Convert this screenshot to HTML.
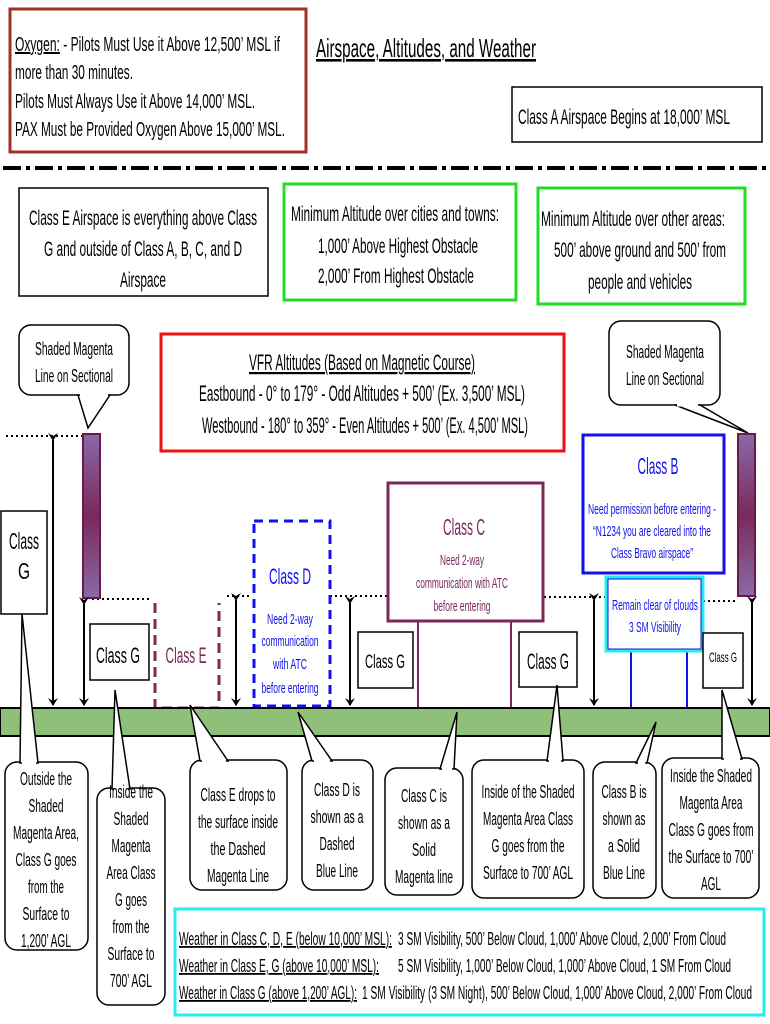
<!DOCTYPE html>
<html><head><meta charset="utf-8"><style>
html,body{margin:0;padding:0;background:#fff}
svg{display:block}
text{font-family:"Liberation Sans Narrow","Liberation Sans",sans-serif;fill:#000}
</style></head><body>
<svg width="770" height="1024" viewBox="0 0 770 1024" xmlns="http://www.w3.org/2000/svg">
<defs>
<linearGradient id="mg" x1="0" y1="0" x2="0" y2="1">
<stop offset="0" stop-color="#8a6aa8"/><stop offset="0.5" stop-color="#7a2a5a"/><stop offset="1" stop-color="#8a6aa8"/>
</linearGradient>
<marker id="ah" markerWidth="8" markerHeight="10" refX="7" refY="5" orient="auto" markerUnits="userSpaceOnUse">
<path d="M0,0 L8,5 L0,10 L3,5 Z" fill="#000"/></marker>
</defs>

<rect x="10" y="9" width="296" height="143" fill="#fff" stroke="#a0302a" stroke-width="3"/>
<text x="15" y="51" font-size="20" textLength="265" lengthAdjust="spacingAndGlyphs"><tspan text-decoration="underline">Oxygen:</tspan> - Pilots Must Use it Above 12,500’ MSL if</text>
<text x="15" y="79" font-size="20" textLength="118" lengthAdjust="spacingAndGlyphs">more than 30 minutes.</text>
<text x="15" y="108" font-size="20" textLength="240" lengthAdjust="spacingAndGlyphs">Pilots Must Always Use it Above 14,000’ MSL.</text>
<text x="15" y="136" font-size="20" textLength="270" lengthAdjust="spacingAndGlyphs">PAX Must be Provided Oxygen Above 15,000’ MSL.</text>

<text x="316" y="57" font-size="26" textLength="220" lengthAdjust="spacingAndGlyphs" text-decoration="underline">Airspace, Altitudes, and Weather</text>

<rect x="512" y="87" width="250" height="55" fill="#fff" stroke="#000" stroke-width="1.5"/>
<text x="518" y="124" font-size="21" textLength="212" lengthAdjust="spacingAndGlyphs">Class A Airspace Begins at 18,000’ MSL</text>

<line x1="3" y1="168" x2="770" y2="168" stroke="#000" stroke-width="4" stroke-dasharray="18,5,4,5"/>

<rect x="19" y="188" width="249" height="108" fill="#fff" stroke="#000" stroke-width="1.5"/>
<text x="143" y="225" font-size="21" text-anchor="middle" textLength="228" lengthAdjust="spacingAndGlyphs">Class E Airspace is everything above Class</text>
<text x="143" y="256" font-size="21" text-anchor="middle" textLength="198" lengthAdjust="spacingAndGlyphs">G and outside of Class A, B, C, and D</text>
<text x="143" y="287" font-size="21" text-anchor="middle" textLength="46" lengthAdjust="spacingAndGlyphs">Airspace</text>

<rect x="284" y="184" width="232" height="116" fill="#fff" stroke="#22dd22" stroke-width="3"/>
<text x="395" y="221" font-size="21" text-anchor="middle" textLength="208" lengthAdjust="spacingAndGlyphs">Minimum Altitude over cities and towns:</text>
<text x="398" y="253" font-size="21" text-anchor="middle" textLength="160" lengthAdjust="spacingAndGlyphs">1,000’ Above Highest Obstacle</text>
<text x="396" y="283" font-size="21" text-anchor="middle" textLength="156" lengthAdjust="spacingAndGlyphs">2,000’ From Highest Obstacle</text>

<rect x="538" y="188" width="207" height="116" fill="#fff" stroke="#22dd22" stroke-width="3"/>
<text x="633" y="226" font-size="21" text-anchor="middle" textLength="184" lengthAdjust="spacingAndGlyphs">Minimum Altitude over other areas:</text>
<text x="640" y="257" font-size="21" text-anchor="middle" textLength="172" lengthAdjust="spacingAndGlyphs">500’ above ground and 500’ from</text>
<text x="640" y="289" font-size="21" text-anchor="middle" textLength="104" lengthAdjust="spacingAndGlyphs">people and vehicles</text>

<rect x="19" y="325" width="110" height="70" rx="12" fill="#fff" stroke="#000" stroke-width="1.5"/>
<polygon points="78,395 110,395 88,428" fill="#fff" stroke="#000" stroke-width="1.5"/>
<line x1="80" y1="395" x2="108" y2="395" stroke="#fff" stroke-width="3"/>
<text x="74" y="355" font-size="18" text-anchor="middle" textLength="78" lengthAdjust="spacingAndGlyphs">Shaded Magenta</text>
<text x="74" y="382" font-size="18" text-anchor="middle" textLength="78" lengthAdjust="spacingAndGlyphs">Line on Sectional</text>

<rect x="161" y="334" width="403" height="117" fill="#fff" stroke="#ee1111" stroke-width="3"/>
<text x="362" y="370" font-size="22" text-anchor="middle" textLength="226" lengthAdjust="spacingAndGlyphs" text-decoration="underline">VFR Altitudes (Based on Magnetic Course)</text>
<text x="362" y="401" font-size="22" text-anchor="middle" textLength="326" lengthAdjust="spacingAndGlyphs">Eastbound - 0° to 179° - Odd Altitudes + 500’ (Ex. 3,500’ MSL)</text>
<text x="365" y="433" font-size="22" text-anchor="middle" textLength="326" lengthAdjust="spacingAndGlyphs">Westbound - 180° to 359° - Even Altitudes + 500’ (Ex. 4,500’ MSL)</text>

<rect x="609" y="321" width="111" height="84" rx="12" fill="#fff" stroke="#000" stroke-width="1.5"/>
<polygon points="675,405 700,405 748,433" fill="#fff" stroke="#000" stroke-width="1.5"/>
<line x1="677" y1="405" x2="698" y2="405" stroke="#fff" stroke-width="3"/>
<text x="665" y="358" font-size="18" text-anchor="middle" textLength="78" lengthAdjust="spacingAndGlyphs">Shaded Magenta</text>
<text x="665" y="385" font-size="18" text-anchor="middle" textLength="78" lengthAdjust="spacingAndGlyphs">Line on Sectional</text>

<g stroke="#000" stroke-width="2" stroke-dasharray="2,3">
<line x1="6" y1="436" x2="82" y2="436"/>
<line x1="92" y1="599" x2="149" y2="599"/>
<line x1="227" y1="596" x2="252" y2="596"/>
<line x1="330" y1="596" x2="388" y2="596"/>
<line x1="544" y1="597" x2="606" y2="597"/>
<line x1="703" y1="601" x2="737" y2="601"/>
</g>

<rect x="83" y="434" width="17" height="164" fill="url(#mg)" stroke="#6a1a4a" stroke-width="2"/>
<rect x="738" y="434" width="17" height="162" fill="url(#mg)" stroke="#6a1a4a" stroke-width="2"/>

<g stroke="#000" stroke-width="2" marker-start="url(#ah)" marker-end="url(#ah)">
<line x1="53" y1="440" x2="53" y2="705"/>
<line x1="84" y1="604" x2="84" y2="705"/>
<line x1="236" y1="600" x2="236" y2="705"/>
<line x1="350" y1="603" x2="350" y2="705"/>
<line x1="594" y1="600" x2="594" y2="705"/>
<line x1="752" y1="603" x2="752" y2="705"/>
</g>

<rect x="1" y="511" width="46" height="103" fill="#fff" stroke="#000" stroke-width="1.5"/>
<text x="24" y="549" font-size="23" text-anchor="middle" textLength="30" lengthAdjust="spacingAndGlyphs">Class</text>
<text x="24" y="579" font-size="23" text-anchor="middle" textLength="12" lengthAdjust="spacingAndGlyphs">G</text>

<rect x="90" y="624" width="59" height="56" fill="#fff" stroke="#000" stroke-width="1.5"/>
<text x="118" y="663" font-size="22" text-anchor="middle" textLength="44" lengthAdjust="spacingAndGlyphs">Class G</text>

<path d="M155,603 L155,708 L219,708 L219,603" fill="none" stroke="#7a2a5a" stroke-width="3" stroke-dasharray="10,6"/>
<text x="186" y="663" font-size="22" text-anchor="middle" style="fill:#7a2a5a" textLength="41" lengthAdjust="spacingAndGlyphs">Class E</text>

<rect x="254" y="521" width="76" height="185" fill="#fff" stroke="#1111ee" stroke-width="3" stroke-dasharray="9,6"/>
<text x="290" y="584" font-size="22" text-anchor="middle" style="fill:#1111ee" textLength="42" lengthAdjust="spacingAndGlyphs">Class D</text>
<text x="290" y="624" font-size="15" text-anchor="middle" style="fill:#1111ee" textLength="46" lengthAdjust="spacingAndGlyphs">Need 2-way</text>
<text x="290" y="646" font-size="15" text-anchor="middle" style="fill:#1111ee" textLength="57" lengthAdjust="spacingAndGlyphs">communication</text>
<text x="290" y="669" font-size="15" text-anchor="middle" style="fill:#1111ee" textLength="34" lengthAdjust="spacingAndGlyphs">with ATC</text>
<text x="290" y="693" font-size="15" text-anchor="middle" style="fill:#1111ee" textLength="57" lengthAdjust="spacingAndGlyphs">before entering</text>

<rect x="358" y="632" width="55" height="56" fill="#fff" stroke="#000" stroke-width="1.5"/>
<text x="385" y="668" font-size="19" text-anchor="middle" textLength="40" lengthAdjust="spacingAndGlyphs">Class G</text>

<line x1="418" y1="621" x2="418" y2="708" stroke="#7a2a5a" stroke-width="2"/>
<line x1="511" y1="621" x2="511" y2="708" stroke="#7a2a5a" stroke-width="2"/>
<rect x="388" y="483" width="155" height="138" fill="#fff" stroke="#7a2a5a" stroke-width="3"/>
<text x="464" y="535" font-size="23" text-anchor="middle" style="fill:#7a2a5a" textLength="42" lengthAdjust="spacingAndGlyphs">Class C</text>
<text x="462" y="565" font-size="15" text-anchor="middle" style="fill:#7a2a5a" textLength="44" lengthAdjust="spacingAndGlyphs">Need 2-way</text>
<text x="462" y="588" font-size="15" text-anchor="middle" style="fill:#7a2a5a" textLength="92" lengthAdjust="spacingAndGlyphs">communication with ATC</text>
<text x="462" y="611" font-size="15" text-anchor="middle" style="fill:#7a2a5a" textLength="57" lengthAdjust="spacingAndGlyphs">before entering</text>

<rect x="519" y="632" width="58" height="55" fill="#fff" stroke="#000" stroke-width="1.5"/>
<text x="548" y="669" font-size="22" text-anchor="middle" textLength="42" lengthAdjust="spacingAndGlyphs">Class G</text>

<rect x="631" y="651" width="56" height="57" fill="#fff" stroke="#1111ee" stroke-width="2"/>
<rect x="583" y="435" width="141" height="138" fill="#fff" stroke="#1111ee" stroke-width="3"/>
<text x="658" y="474" font-size="23" text-anchor="middle" style="fill:#1111ee" textLength="41" lengthAdjust="spacingAndGlyphs">Class B</text>
<text x="652" y="514" font-size="15" text-anchor="middle" style="fill:#1111ee" textLength="128" lengthAdjust="spacingAndGlyphs">Need permission before entering -</text>
<text x="652" y="536" font-size="15" text-anchor="middle" style="fill:#1111ee" textLength="118" lengthAdjust="spacingAndGlyphs">“N1234 you are cleared into the</text>
<text x="652" y="558" font-size="15" text-anchor="middle" style="fill:#1111ee" textLength="82" lengthAdjust="spacingAndGlyphs">Class Bravo airspace”</text>
<rect x="606" y="577" width="97" height="74" fill="#fff" stroke="#22eeee" stroke-width="3"/>
<rect x="608" y="579" width="93" height="70" fill="none" stroke="#1111ee" stroke-width="1"/>
<text x="655" y="610" font-size="15" text-anchor="middle" style="fill:#1111ee" textLength="86" lengthAdjust="spacingAndGlyphs">Remain clear of clouds</text>
<text x="655" y="632" font-size="15" text-anchor="middle" style="fill:#1111ee" textLength="52" lengthAdjust="spacingAndGlyphs">3 SM Visibility</text>

<rect x="703" y="633" width="40" height="55" fill="#fff" stroke="#000" stroke-width="1.5"/>
<text x="723" y="662" font-size="14" text-anchor="middle" textLength="28" lengthAdjust="spacingAndGlyphs">Class G</text>

<rect x="0" y="708" width="770" height="28" fill="#8fc07a" stroke="#000" stroke-width="2"/>

<g stroke="#000" stroke-width="1.5" fill="#fff">
<rect x="5" y="762" width="83" height="188" rx="12"/>
<polygon points="20,763 38,763 22,614"/>
<rect x="97" y="788" width="68" height="217" rx="12"/>
<polygon points="112,789 130,789 115,690"/>
<rect x="190" y="760" width="97" height="130" rx="12"/>
<polygon points="200,761 228,761 190,705"/>
<rect x="302" y="760" width="71" height="130" rx="12"/>
<polygon points="312,761 332,761 298,712"/>
<rect x="385" y="768" width="78" height="127" rx="12"/>
<polygon points="440,769 454,769 457,712"/>
<rect x="472" y="760" width="112" height="138" rx="12"/>
<polygon points="547,761 563,761 557,685"/>
<rect x="593" y="762" width="63" height="136" rx="12"/>
<polygon points="636,763 647,763 656,722"/>
<rect x="662" y="758" width="97" height="140" rx="12"/>
<polygon points="722,759 742,759 722,690"/>
</g>
<g stroke="#fff" stroke-width="3">
<line x1="22" y1="763" x2="36" y2="763"/>
<line x1="114" y1="789" x2="128" y2="789"/>
<line x1="202" y1="761" x2="226" y2="761"/>
<line x1="314" y1="761" x2="330" y2="761"/>
<line x1="442" y1="769" x2="452" y2="769"/>
<line x1="549" y1="761" x2="561" y2="761"/>
<line x1="638" y1="763" x2="645" y2="763"/>
<line x1="724" y1="759" x2="740" y2="759"/>
</g>
<g font-size="18" text-anchor="middle" lengthAdjust="spacingAndGlyphs">
<text x="46" y="785" textLength="52" lengthAdjust="spacingAndGlyphs">Outside the</text>
<text x="46" y="812" textLength="35" lengthAdjust="spacingAndGlyphs">Shaded</text>
<text x="46" y="839" textLength="66" lengthAdjust="spacingAndGlyphs">Magenta Area,</text>
<text x="46" y="866" textLength="61" lengthAdjust="spacingAndGlyphs">Class G goes</text>
<text x="46" y="893" textLength="36" lengthAdjust="spacingAndGlyphs">from the</text>
<text x="46" y="920" textLength="47" lengthAdjust="spacingAndGlyphs">Surface to</text>
<text x="46" y="947" textLength="50" lengthAdjust="spacingAndGlyphs">1,200’ AGL</text>

<text x="131" y="798" textLength="44" lengthAdjust="spacingAndGlyphs">Inside the</text>
<text x="131" y="825" textLength="35" lengthAdjust="spacingAndGlyphs">Shaded</text>
<text x="131" y="852" textLength="39" lengthAdjust="spacingAndGlyphs">Magenta</text>
<text x="131" y="879" textLength="49" lengthAdjust="spacingAndGlyphs">Area Class</text>
<text x="131" y="906" textLength="32" lengthAdjust="spacingAndGlyphs">G goes</text>
<text x="131" y="933" textLength="37" lengthAdjust="spacingAndGlyphs">from the</text>
<text x="131" y="960" textLength="47" lengthAdjust="spacingAndGlyphs">Surface to</text>
<text x="131" y="987" textLength="42" lengthAdjust="spacingAndGlyphs">700’ AGL</text>

<text x="238" y="801" textLength="75" lengthAdjust="spacingAndGlyphs">Class E drops to</text>
<text x="238" y="828" textLength="80" lengthAdjust="spacingAndGlyphs">the surface inside</text>
<text x="238" y="855" textLength="55" lengthAdjust="spacingAndGlyphs">the  Dashed</text>
<text x="238" y="882" textLength="62" lengthAdjust="spacingAndGlyphs">Magenta Line</text>

<text x="337" y="796" textLength="46" lengthAdjust="spacingAndGlyphs">Class D is</text>
<text x="337" y="823" textLength="53" lengthAdjust="spacingAndGlyphs">shown as a</text>
<text x="337" y="850" textLength="35" lengthAdjust="spacingAndGlyphs">Dashed</text>
<text x="337" y="877" textLength="42" lengthAdjust="spacingAndGlyphs">Blue Line</text>

<text x="424" y="802" textLength="46" lengthAdjust="spacingAndGlyphs">Class C is</text>
<text x="424" y="829" textLength="52" lengthAdjust="spacingAndGlyphs">shown as a</text>
<text x="424" y="856" textLength="24" lengthAdjust="spacingAndGlyphs">Solid</text>
<text x="424" y="883" textLength="58" lengthAdjust="spacingAndGlyphs">Magenta line</text>

<text x="528" y="798" textLength="93" lengthAdjust="spacingAndGlyphs">Inside of the Shaded</text>
<text x="528" y="825" textLength="90" lengthAdjust="spacingAndGlyphs">Magenta Area Class</text>
<text x="528" y="852" textLength="73" lengthAdjust="spacingAndGlyphs">G goes from the</text>
<text x="528" y="879" textLength="90" lengthAdjust="spacingAndGlyphs">Surface to 700’ AGL</text>

<text x="624" y="798" textLength="45" lengthAdjust="spacingAndGlyphs">Class B is</text>
<text x="624" y="825" textLength="43" lengthAdjust="spacingAndGlyphs">shown as</text>
<text x="624" y="852" textLength="32" lengthAdjust="spacingAndGlyphs">a Solid</text>
<text x="624" y="879" textLength="42" lengthAdjust="spacingAndGlyphs">Blue Line</text>

<text x="711" y="782" textLength="82" lengthAdjust="spacingAndGlyphs">Inside the Shaded</text>
<text x="711" y="809" textLength="63" lengthAdjust="spacingAndGlyphs">Magenta Area</text>
<text x="711" y="836" textLength="85" lengthAdjust="spacingAndGlyphs">Class G goes from</text>
<text x="711" y="863" textLength="85" lengthAdjust="spacingAndGlyphs">the Surface to 700’</text>
<text x="711" y="890" textLength="20" lengthAdjust="spacingAndGlyphs">AGL</text>
</g>

<rect x="175" y="909" width="589" height="106" fill="#fff" stroke="#22eeee" stroke-width="3"/>
<g font-size="18">
<text x="179" y="945" textLength="213" lengthAdjust="spacingAndGlyphs" text-decoration="underline">Weather in Class C, D, E (below 10,000’ MSL):</text>
<text x="398" y="945" textLength="328" lengthAdjust="spacingAndGlyphs">3 SM Visibility, 500’ Below Cloud, 1,000’ Above Cloud, 2,000’ From Cloud</text>
<text x="179" y="972" textLength="200" lengthAdjust="spacingAndGlyphs" text-decoration="underline">Weather in Class E, G (above 10,000’ MSL):</text>
<text x="398" y="972" textLength="333" lengthAdjust="spacingAndGlyphs">5 SM Visibility, 1,000’ Below Cloud, 1,000’ Above Cloud, 1 SM From Cloud</text>
<text x="179" y="999" textLength="178" lengthAdjust="spacingAndGlyphs" text-decoration="underline">Weather in Class G (above 1,200’ AGL):</text>
<text x="362" y="999" textLength="390" lengthAdjust="spacingAndGlyphs">1 SM Visibility (3 SM Night), 500’ Below Cloud, 1,000’ Above Cloud, 2,000’ From Cloud</text>
</g>
</svg>
</body></html>
